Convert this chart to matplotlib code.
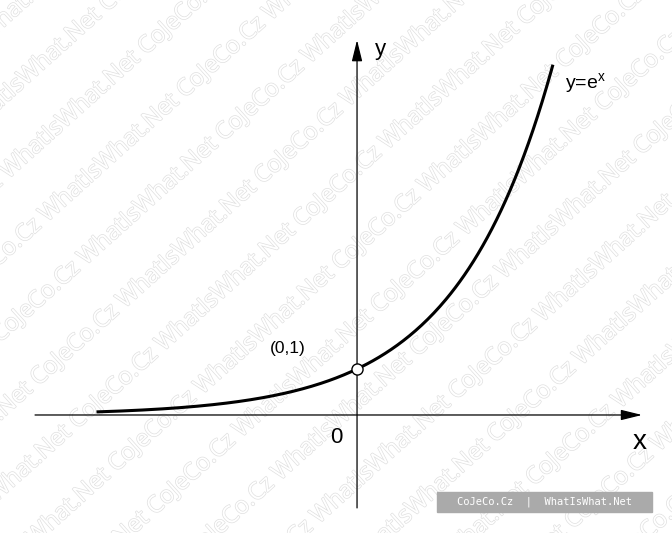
"""
Exponential function y = e^x with watermark, recreated in matplotlib.
"""

import numpy as np
import matplotlib.pyplot as plt
import matplotlib.patheffects as pe

# chart content
curve_range = [-2.7, 2.03]        # x range of the drawn curve
point = (0, 1)                    # marked point
point_label = "(0,1)"
curve_label = "y=e$^{\\mathregular{x}}$"
axis_labels = ["x", "y"]
origin_label = "0"
watermark_words = "CoJeCo.Cz WhatIsWhat.Net "
badge_text = "CoJeCo.Cz  |  WhatIsWhat.Net"

plt.rcParams["font.family"] = ["Liberation Sans", "DejaVu Sans"]

W, H = 672, 533
fig = plt.figure(figsize=(W / 100, H / 100), dpi=100)
fig.patch.set_facecolor("white")

# watermark: diagonal outlined text bands
angle = 42
spacing = 58
ux, uy = np.sin(np.radians(angle)), -np.cos(np.radians(angle))
cx, cy = W / 2, H / 2
for k in range(-8, 9):
    px = cx + k * spacing * ux
    py = cy + k * spacing * uy
    fig.text(px / W, py / H, watermark_words * 4, rotation=angle,
             rotation_mode="anchor", ha="center", va="center",
             fontsize=17, color="white", family="Open Sans", zorder=0,
             path_effects=[pe.withStroke(linewidth=1.0, foreground="#e0e0e0")])

ax = fig.add_axes([0, 0, 1, 1])
ax.set_zorder(1)
ax.set_facecolor("none")
ax.set_xlim(-3.70, 3.264)
ax.set_ylim(-2.565, 9.02)
ax.axis("off")

# axes with arrows
arrow = dict(arrowstyle="-|>,head_length=1.3,head_width=0.32", color="black",
             lw=0.9, shrinkA=0, shrinkB=0)
ax.annotate("", xy=(2.954, 0), xytext=(-3.337, 0), arrowprops=arrow)
ax.annotate("", xy=(0, 8.15), xytext=(0, -2.02), arrowprops=arrow)

# curve
xs = np.linspace(curve_range[0], curve_range[1], 300)
ax.plot(xs, np.exp(xs), color="black", lw=2.2, solid_capstyle="butt", zorder=3)
ax.plot(*point, marker="o", ms=8, mfc="white", mec="black", mew=1.0, zorder=4)

# text
ax.text(-0.72, 1.45, point_label, fontsize=12.5, ha="center", va="center")
ax.text(-0.21, -0.48, origin_label, fontsize=16, ha="center", va="center")
ax.text(2.93, -0.58, axis_labels[0], fontsize=20, ha="center", va="center")
ax.text(0.24, 7.95, axis_labels[1], fontsize=16, ha="center", va="center")
ax.text(2.15, 7.2, curve_label, fontsize=14, ha="left", va="center")

# badge
fig.patches.append(plt.Rectangle((437 / W, 1 - 512 / H), 215 / W, 20 / H,
                                 transform=fig.transFigure, color="#aaaaaa",
                                 zorder=5))
fig.text(544.5 / W, 1 - 502 / H, badge_text, fontsize=7.5, color="white",
         family="DejaVu Sans Mono", ha="center", va="center", zorder=6)

fig.savefig("out.png", dpi=100)
